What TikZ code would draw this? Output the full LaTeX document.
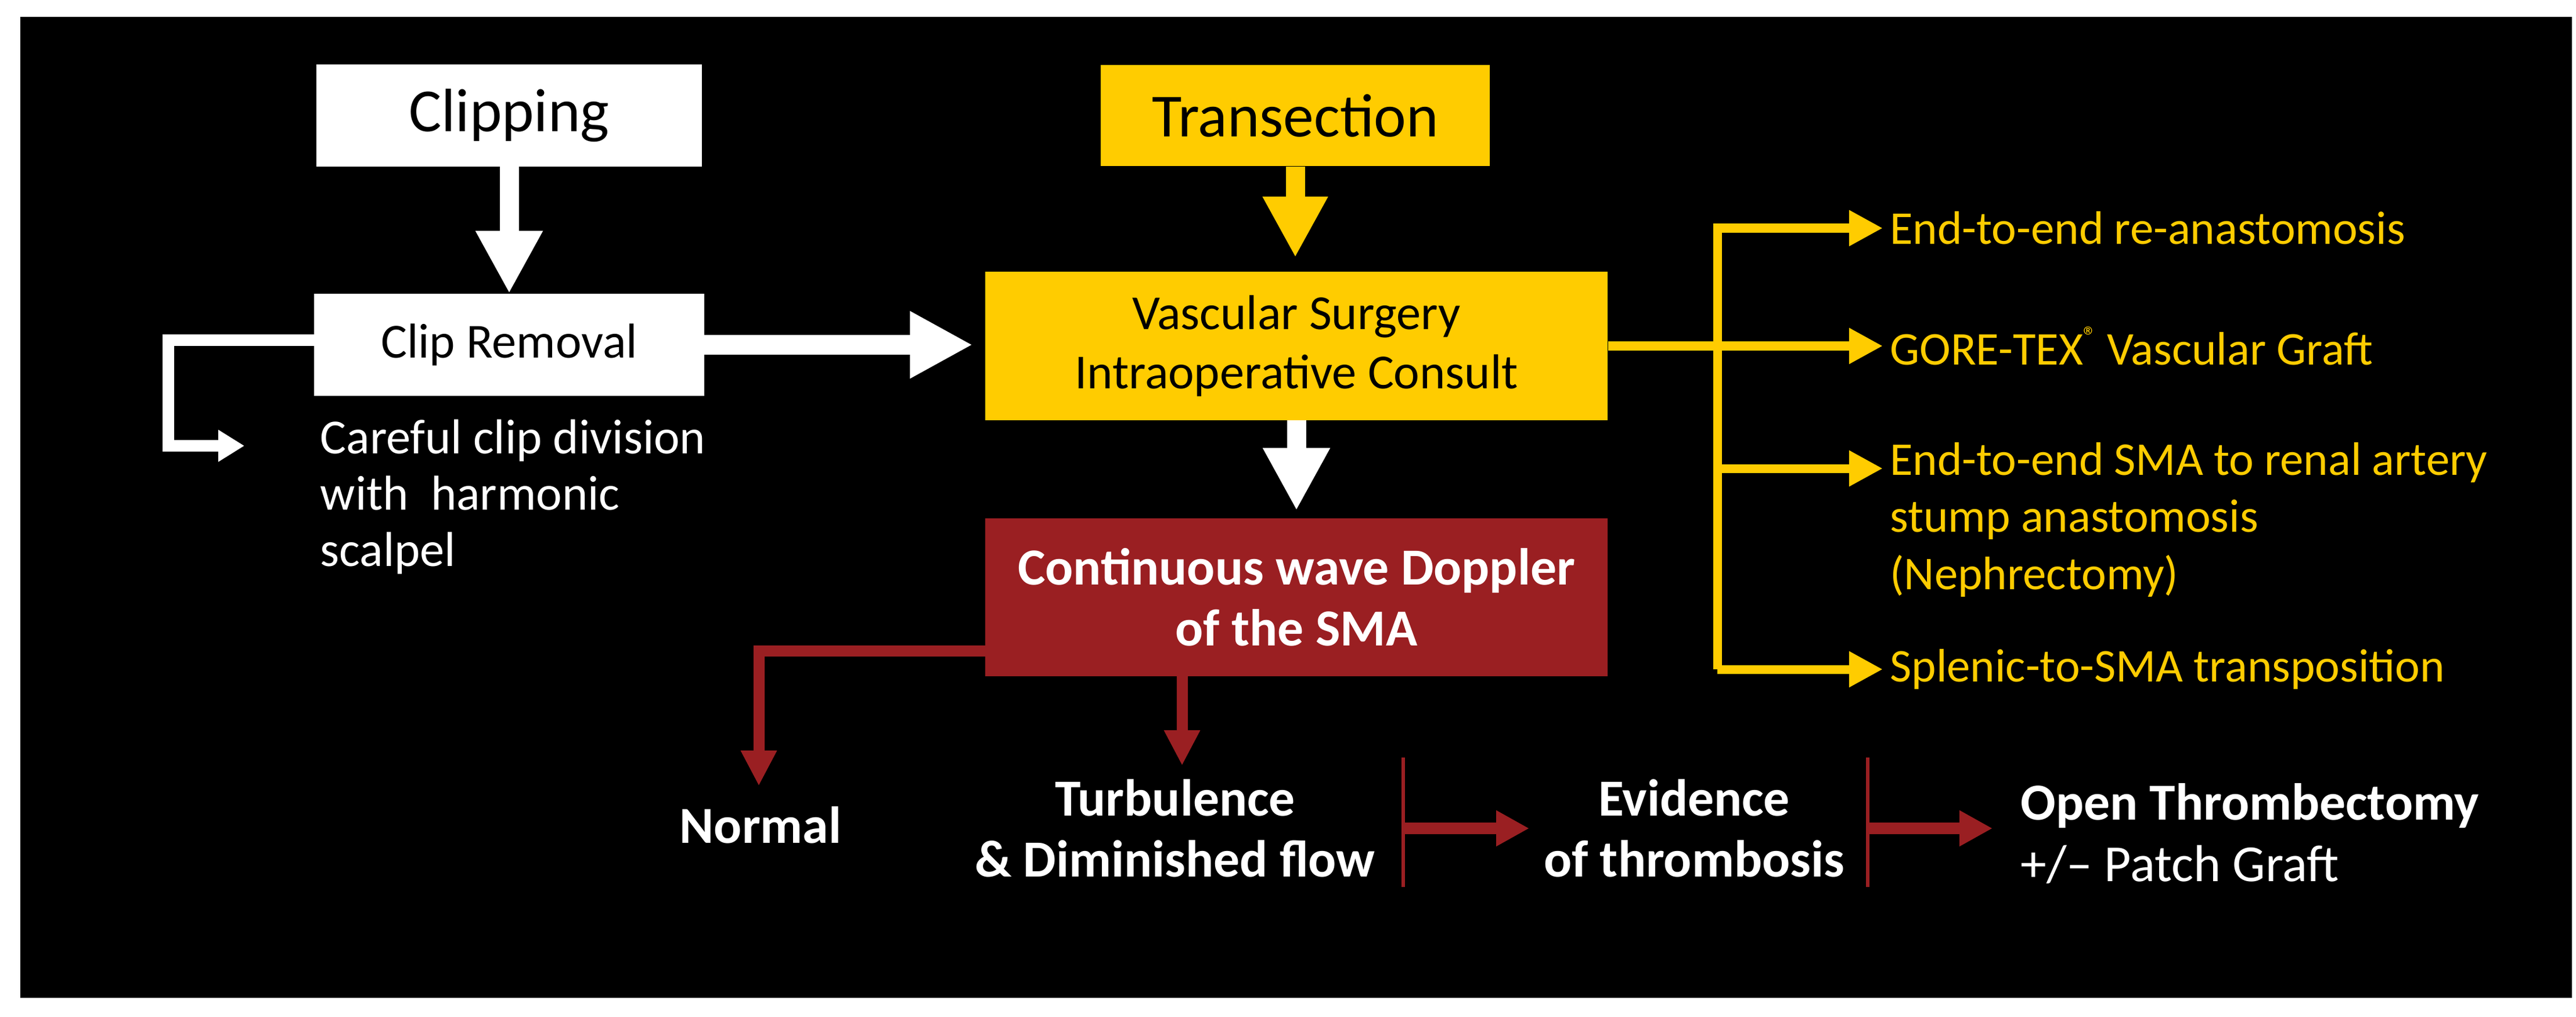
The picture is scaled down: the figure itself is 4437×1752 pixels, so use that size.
\documentclass[tikz,border=0pt]{standalone}
\usepackage{fontspec}
\setmainfont{Carlito}
\usetikzlibrary{arrows.meta}
\definecolor{ylw}{HTML}{FFCC00}
\definecolor{rd}{HTML}{9A1F22}
\begin{document}
\begin{tikzpicture}[x=0.01cm,y=-0.01cm,
  whitearrow/.style={draw=white,line width=0.33cm,-{Triangle[length=1.08cm,width=1.08cm]}},
  ylwarrow/.style={draw=ylw,line width=0.33cm,-{Triangle[length=1.05cm,width=1.05cm]}},
  ybranch/.style={draw=ylw,line width=0.15cm,-{Triangle[length=0.58cm,width=0.58cm]}},
  rarrow/.style={draw=rd,line width=0.19cm,-{Triangle[length=0.61cm,width=0.58cm]}},
  hbar/.style={draw=rd,line width=0.06cm},
  hcarrow/.style={draw=rd,line width=0.2cm,-{Triangle[length=0.57cm,width=0.58cm]}},
  big/.style={font=\fontsize{30}{36}\selectfont},
  mid/.style={font=\fontsize{24}{29}\selectfont},
  bld/.style={font=\fontsize{25.5}{30}\selectfont\bfseries},
  side/.style={font=\fontsize{23}{28}\selectfont,text=ylw,anchor=west,align=left}]
\useasboundingbox (0,0) rectangle (4437,1752);
\fill[white] (0,0) rectangle (4437,1752);
\fill[black] (35,29) rectangle (4430,1719);

\node[fill=white,minimum width=6.63cm,minimum height=1.75cm,big] (clip) at (877,199) {Clipping};
\node[fill=white,minimum width=6.71cm,minimum height=1.75cm,mid] (crem) at (877,594) {Clip Removal};
\node[fill=ylw,minimum width=6.69cm,minimum height=1.74cm,big] (trans) at (2231,199) {Transection};
\node[fill=ylw,minimum width=10.71cm,minimum height=2.55cm,mid,align=center] (vasc) at (2233,596) {Vascular Surgery\\Intraoperative Consult};
\node[fill=rd,minimum width=10.71cm,minimum height=2.71cm,bld,text=white,align=center] (dop) at (2233,1029) {Continuous wave Doppler\\of the SMA};

\draw[whitearrow] (clip.south) -- (crem.north);
\draw[whitearrow,shorten >=0.21cm] (crem.east) -- (vasc.west |- crem.east);
\draw[ylwarrow,shorten >=0.24cm] (trans.south) -- (trans.south |- vasc.north);
\draw[whitearrow,shorten >=0.13cm] (vasc.south) -- (dop.north);

\coordinate (cw) at (421,768);
\draw[draw=white,line width=0.2cm,-{Triangle[length=0.45cm,width=0.52cm]}] (crem.west |- 0,586) -| (290,768) -- (cw);
\node[anchor=north west,align=left,text=white,font=\fontsize{24}{27.6}\selectfont,inner sep=0pt] (care) at (551,722) {Careful clip division\\with\ \ harmonic\\scalpel};

% yellow branches
\coordinate (yb) at (2958,596);
\draw[draw=ylw,line width=0.15cm] (vasc.east) -- (yb);
\node[side] (o1) at (3243,393) {End-to-end re-anastomosis};
\node[side] (o2) at (3243,596) {GORE-TEX{\fontsize{13}{13}\selectfont\raisebox{0.75em}{\textregistered}} Vascular Graft};
\node[side] (o3) at (3243,895) {End-to-end SMA to renal artery\\stump anastomosis\\(Nephrectomy)};
\node[side] (o4) at (3243,1153) {Splenic-to-SMA transposition};
\draw[ybranch] (2958,1153) |- (o1.west);
\draw[ybranch] (yb) -- (o2.west);
\draw[ybranch] (2958,807) -- (o3.west |- 0,807);
\draw[ybranch] (2958,1153) -- (o4.west);

% red part
\node[bld,text=white] (norm) at (1310,1421) {Normal};
\node[bld,text=white,align=center] (turb) at (2024,1427) {Turbulence\\\& Diminished flow};
\node[bld,text=white,align=center] (evid) at (2918,1427) {Evidence\\of thrombosis};
\node[text=white,align=left,anchor=west,font=\fontsize{25.5}{30}\selectfont] (open) at (3468,1436) {\textbf{Open Thrombectomy}\\+/-- Patch Graft};

\draw[rarrow] (dop.west |- 0,1121) -| (1307,1354);
\draw[rarrow] (2036,1165) -- (2036,1319);
\coordinate (b1t) at (2417,1305); \coordinate (b1b) at (2417,1528);
\coordinate (b2t) at (3217,1305); \coordinate (b2b) at (3217,1528);
\draw[hbar] (b1t) -- (b1b);
\draw[hbar] (b2t) -- (b2b);
\draw[hcarrow] (2417,1427) -- (2634,1427);
\draw[hcarrow] (3217,1427) -- (3432,1427);
\end{tikzpicture}
\end{document}
